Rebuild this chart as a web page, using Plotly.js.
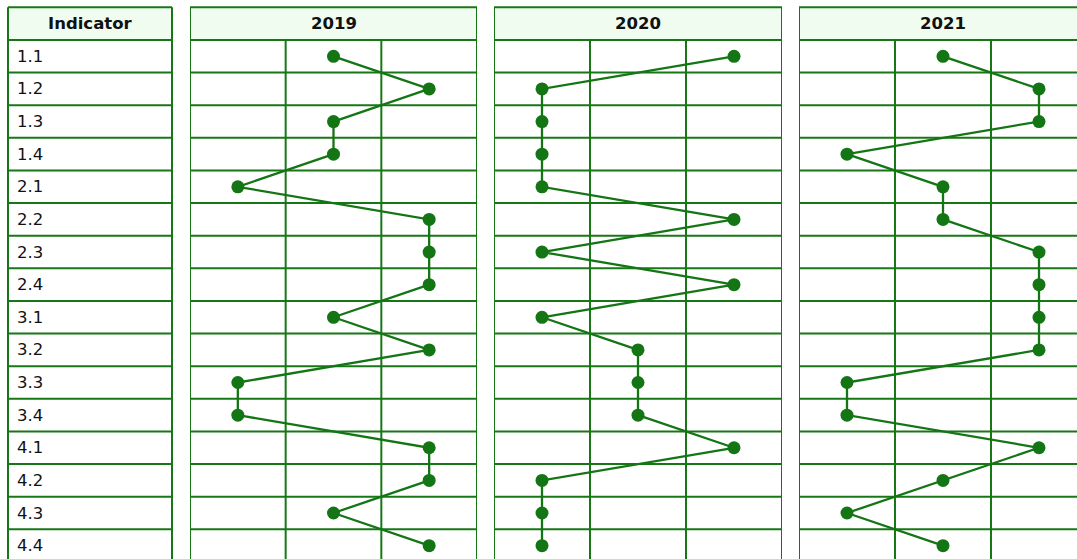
<!DOCTYPE html>
<html>
<head>
<meta charset="utf-8">
<script src="https://cdn.plot.ly/plotly-3.0.1.min.js"></script>
<style>html,body{margin:0;padding:0;background:#fff;}#chart{width:1077px;height:559px;}</style>
</head>
<body>
<div id="chart"></div>
<script>
const indicators = ["1.1","1.2","1.3","1.4","2.1","2.2","2.3","2.4","3.1","3.2","3.3","3.4","4.1","4.2","4.3","4.4"];
const years = ["2019","2020","2021"];
const values2019 = [2,3,2,2,1,3,3,3,2,3,1,1,3,3,2,3];
const values2020 = [3,1,1,1,1,3,1,3,1,2,2,2,3,1,1,1];
const values2021 = [2,3,3,1,2,2,3,3,3,3,1,1,3,2,1,2];
const headerLabel = "Indicator";

const W = 1077, H = 559;
const gridColor = "#177717";
const markColor = "#147514";
const headFill = "#effcef";
const fontFam = "DejaVu Sans, Verdana, sans-serif";
const gw = 2;

const panelPx = [[190,477],[494,782],[799,1087]];
const indPx = [8,172];
const n = indicators.length;

const series = [values2019, values2020, values2021];
const axNames = ["x2","x3","x4"];
const traces = series.map((vals,k)=>({
  type:"scatter", mode:"lines+markers",
  x: vals, y: indicators,
  xaxis: axNames[k], yaxis:"y",
  line:{color:markColor, width:2.3},
  marker:{color:markColor, size:13},
  hoverinfo:"x+y", showlegend:false, cliponaxis:false
}));

const layout = {
  width:W, height:H,
  margin:{l:0,r:0,t:0,b:0},
  paper_bgcolor:"#fff", plot_bgcolor:"rgba(0,0,0,0)",
  showlegend:false,
  yaxis:{type:"category", categoryarray:indicators, range:[15.41,-1.726], visible:false, fixedrange:true, domain:[0,1]},
  shapes:[], annotations:[]
};

const ax = ["xaxis2","xaxis3","xaxis4"];
panelPx.forEach((p,k)=>{
  const d0 = p[0]/W;
  const d1 = Math.min(1, p[1]/W);
  const span = (p[1]-p[0]);
  const r1 = 0.5 + 3*((Math.min(W,p[1]) - p[0])/span);
  layout[ax[k]] = {domain:[d0,d1], range:[0.5, r1], visible:false, fixedrange:true, anchor:"y"};
  const xr = axNames[k];
  layout.shapes.push({type:"rect", xref:xr, yref:"y", x0:0.5, x1:3.5, y0:-1.5, y1:-0.5, fillcolor:headFill, line:{width:0}, layer:"below"});
  for(let i=-1;i<=n;i++){
    layout.shapes.push({type:"line", xref:xr, yref:"y", x0:0.5, x1:3.5, y0:i-0.5, y1:i-0.5, line:{color:gridColor, width:gw}, layer:"below"});
  }
  [0.5,3.5].forEach(xv=>layout.shapes.push({type:"line", xref:xr, yref:"y", x0:xv, x1:xv, y0:-1.5, y1:n-0.5, line:{color:gridColor, width:gw}, layer:"below"}));
  [1.5,2.5].forEach(xv=>layout.shapes.push({type:"line", xref:xr, yref:"y", x0:xv, x1:xv, y0:-0.5, y1:n-0.5, line:{color:gridColor, width:gw}, layer:"below"}));
  layout.annotations.push({xref:xr, yref:"y", x:2, y:-1, text:"<b>"+years[k]+"</b>", showarrow:false, xanchor:"center", yanchor:"middle", font:{family:fontFam, size:16.5, color:"#111"}});
});

const i0 = indPx[0]/W, i1 = indPx[1]/W;
layout.shapes.push({type:"rect", xref:"paper", yref:"y", x0:i0, x1:i1, y0:-1.5, y1:-0.5, fillcolor:headFill, line:{width:0}, layer:"below"});
for(let i=-1;i<=n;i++){
  layout.shapes.push({type:"line", xref:"paper", yref:"y", x0:i0, x1:i1, y0:i-0.5, y1:i-0.5, line:{color:gridColor, width:gw}, layer:"below"});
}
[i0,i1].forEach(xv=>layout.shapes.push({type:"line", xref:"paper", yref:"y", x0:xv, x1:xv, y0:-1.5, y1:n-0.5, line:{color:gridColor, width:gw}, layer:"below"}));
layout.annotations.push({xref:"paper", yref:"y", x:(indPx[0]+indPx[1])/2/W, y:-1, text:"<b>"+headerLabel+"</b>", showarrow:false, xanchor:"center", yanchor:"middle", font:{family:fontFam, size:16.5, color:"#111"}});
indicators.forEach((lab,i)=>{
  layout.annotations.push({xref:"paper", yref:"y", x:15/W, y:i, text:lab, showarrow:false, xanchor:"left", yanchor:"middle", font:{family:fontFam, size:16.5, color:"#111"}});
});

Plotly.newPlot("chart", traces, layout, {displayModeBar:false, staticPlot:true});
</script>
</body>
</html>
